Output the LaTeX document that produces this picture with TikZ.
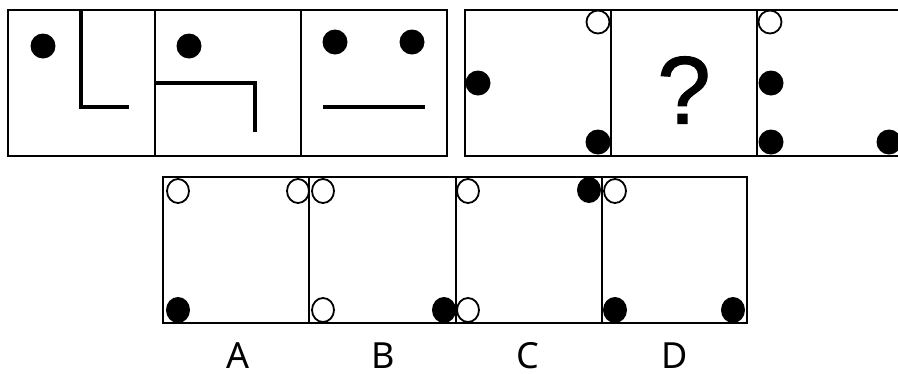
\documentclass[tikz,border=0pt]{standalone}
\usepackage{fontspec}
\setmainfont{Noto Sans}
\newfontfamily\qfont[FakeBold=1.2]{Liberation Sans}
\begin{document}
\begin{tikzpicture}[x=1pt,y=-1pt,
cellbox/.style={line width=2.7pt},
bar/.style={line width=4pt},
dotfill/.style={fill=black},
dotopen/.style={draw=black,line width=1.8pt}]
\useasboundingbox(0,0)rectangle(898,373);
\clip(0,0)rectangle(898,373);
%% top left
\draw[cellbox](8,10)rectangle(447,156)
(155,10)--(155,156)
(301,10)--(301,156);
\draw[bar](81,10)--(81,107)--(129,107);
\draw[bar](155,83)--(255,83)--(255,132);
\draw[bar](323,107)--(425,107);
\foreach \p in {(43,46),(189,46),(335,42),(412,42)}
\fill[dotfill]\p circle[radius=12.5pt];
%% top right
\draw[cellbox](465,10)rectangle(903,156)
(611,10)--(611,156)
(757,10)--(757,156);
\foreach \p in {(478,83),(598,142),(771,83),(771,142),(889,142)}
\fill[dotfill]\p circle[radius=12.5pt];
\foreach \p in {(598,22),(770,22)}
\draw[dotopen]\p circle[radius=11.5pt];
\node[inner sep=0](qmark)at(684,90){\qfont\fontsize{96}{100}\selectfont ?};
%% options
\draw[cellbox](163,177)rectangle(747,323)
(309,177)--(309,323)
(456,177)--(456,323)
(602,177)--(602,323);
\foreach \p in {(178,310),(444,310),(589,190),(615,310),(733,310)}
\fill[dotfill]\p ellipse[x radius=12pt,y radius=13pt];
\foreach \p in {(178,191),(298,191),(323,191),(323,310),(468,191),(468,310),(615,191)}
\draw[dotopen]\p ellipse[x radius=11pt,y radius=12pt];
\foreach \l/\x in {A/238,B/383,C/528,D/675}
\node[inner sep=0](lab\l)at(\x,356){\fontsize{36}{40}\selectfont\l};
\end{tikzpicture}
\end{document}
